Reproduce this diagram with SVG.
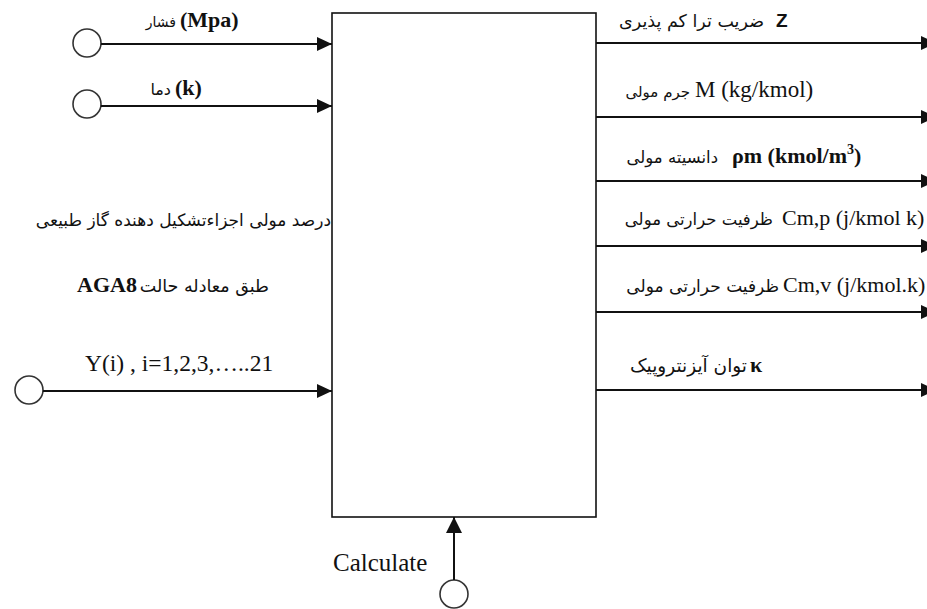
<svg xmlns="http://www.w3.org/2000/svg" width="927" height="609" viewBox="0 0 927 609">
  <style>
    .wire { stroke: #111; stroke-width: 2; fill: none; }
    .port { stroke: #333; stroke-width: 1.6; fill: #fff; }
    .block { stroke: #111; stroke-width: 1.6; fill: #fff; }
    .lt { font-family: "Liberation Serif", "Times New Roman", serif; font-size: 22px; fill: #111; }
    .fa { font-family: "DejaVu Sans", "Noto Sans", sans-serif; font-size: 16px; fill: #111; text-anchor: end; }
    .b { font-weight: bold; }
  </style>
  <defs>
    <marker id="head" markerUnits="userSpaceOnUse" markerWidth="16" markerHeight="16" refX="15" refY="7" orient="auto">
      <path d="M0,0 L15,7 L0,14 Z" fill="#111"/>
    </marker>
    <marker id="headBig" markerUnits="userSpaceOnUse" markerWidth="18" markerHeight="18" refX="16" refY="8" orient="auto">
      <path d="M0,0 L16,8 L0,16 Z" fill="#111"/>
    </marker>
  </defs>

  <!-- calculation block -->
  <g id="block">
    <rect class="block" x="332" y="13" width="264" height="504"/>
  </g>

  <!-- input ports -->
  <g id="port-pressure"><circle class="port" cx="87" cy="43" r="14"/></g>
  <g id="port-temperature"><circle class="port" cx="87" cy="104" r="14"/></g>
  <g id="port-composition"><circle class="port" cx="29" cy="390" r="14"/></g>
  <g id="port-calculate"><circle class="port" cx="454" cy="594" r="14"/></g>

  <!-- connectors -->
  <g id="connectors">
    <line class="wire" x1="101" y1="44" x2="332" y2="44" marker-end="url(#head)"/>
    <line class="wire" x1="101" y1="106" x2="332" y2="106" marker-end="url(#head)"/>
    <line class="wire" x1="43" y1="391" x2="332" y2="391" marker-end="url(#head)"/>
    <line class="wire" x1="454" y1="580" x2="454" y2="517" marker-end="url(#headBig)"/>
    <line class="wire" x1="596" y1="43" x2="936" y2="43" marker-end="url(#head)"/>
    <line class="wire" x1="596" y1="117" x2="936" y2="117" marker-end="url(#head)"/>
    <line class="wire" x1="596" y1="181" x2="936" y2="181" marker-end="url(#head)"/>
    <line class="wire" x1="596" y1="246" x2="936" y2="246" marker-end="url(#head)"/>
    <line class="wire" x1="596" y1="312" x2="936" y2="312" marker-end="url(#head)"/>
    <line class="wire" x1="596" y1="390" x2="936" y2="390" marker-end="url(#head)"/>
  </g>

  <!-- input labels -->
  <g id="label-pressure">
    <text class="fa" x="176" y="27" style="font-size:14px">فشار</text>
    <text class="lt b" x="180" y="27">(Mpa)</text>
  </g>
  <g id="label-temperature">
    <text class="fa" x="171" y="95">دما</text>
    <text class="lt b" x="175" y="95">(k)</text>
  </g>
  <g id="label-composition">
    <text class="fa" x="331" y="226" style="font-size:17px">درصد مولی اجزاءتشکیل دهنده گاز طبیعی</text>
    <text class="lt b" x="77" y="292">AGA8</text>
    <text class="fa" x="269" y="292" style="font-size:17.5px">طبق معادله حالت</text>
    <text class="lt" x="85" y="371" style="font-size:23.5px">Y(i) , i=1,2,3,…..21</text>
  </g>
  <g id="label-calculate">
    <text class="lt" x="333" y="571" style="font-size:25px">Calculate</text>
  </g>

  <!-- output labels -->
  <g id="label-z">
    <text class="fa" x="764" y="27" style="font-size:17.5px">ضریب ترا کم پذیری</text>
    <text class="b" x="776" y="27" style="font-family:'Liberation Sans',sans-serif;font-size:19px;fill:#111">Z</text>
  </g>
  <g id="label-molar-mass">
    <text class="fa" x="690" y="97" style="font-size:15px">جرم مولی</text>
    <text class="lt" x="695" y="97" style="font-size:23px">M (kg/kmol)</text>
  </g>
  <g id="label-density">
    <text class="fa" x="718" y="163" style="font-size:16.5px">دانسیته مولی</text>
    <text class="lt b" x="732" y="163">ρm (kmol/m<tspan style="font-size:14px" dy="-9">3</tspan><tspan dy="9">)</tspan></text>
  </g>
  <g id="label-cp">
    <text class="fa" x="773" y="225" style="font-size:16.5px">ظرفیت حرارتی مولی</text>
    <text class="lt" x="782" y="225">Cm,p (j/kmol k)</text>
  </g>
  <g id="label-cv">
    <text class="fa" x="779" y="292" style="font-size:17px">ظرفیت حرارتی مولی</text>
    <text class="lt" x="783" y="292">Cm,v  (j/kmol.k)</text>
  </g>
  <g id="label-kappa">
    <text class="fa" x="747" y="372" style="font-size:18.5px">توان آیزنتروپیک</text>
    <text class="lt b" x="750" y="372">κ</text>
  </g>
</svg>
